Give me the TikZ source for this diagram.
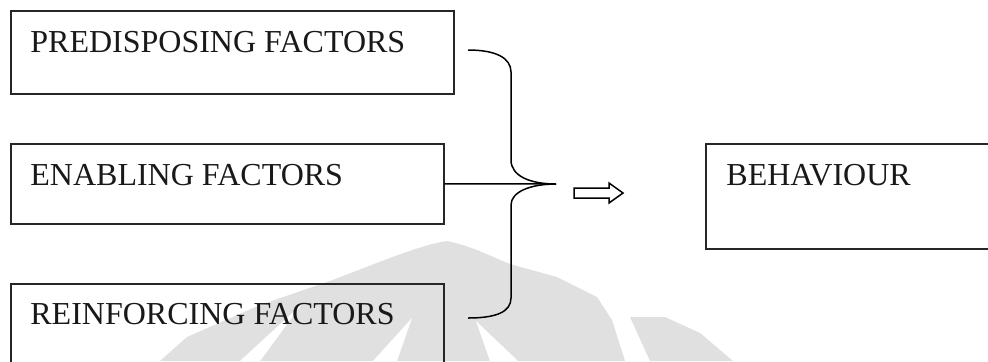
\documentclass[tikz,border=0pt]{standalone}
\usepackage{fontspec}
\setmainfont{Liberation Serif}
\begin{document}
\begin{tikzpicture}[x=0.5pt,y=-0.5pt,
  box/.style={draw=black!85, line width=0.8pt, rectangle, inner sep=0pt, anchor=north west},
  lbl/.style={anchor=base west, inner sep=0pt, font=\fontsize{16pt}{19pt}\selectfont, text=black!90},
  conn/.style={draw=black, line width=0.75pt},
  wm/.style={fill=black!12, draw=none}]
\clip (0,0) rectangle (988,361);
\fill[white] (0,0) rectangle (988,361);
% watermark
\fill[wm] (160,361) -- (187,337) -- (260,305) -- (330,281) .. controls (380,262) and (420,245) .. (447,241) .. controls (480,248) and (500,262) .. (517,266) -- (557,277) -- (597,297) -- (612,320) -- (625,361) -- cycle;
\fill[white] (240,361) -- (302,304) -- (260,361) -- cycle;
\fill[white] (373,361) -- (412,318) -- (397,361) -- cycle;
\fill[white] (490,361) -- (476,321) -- (518,361) -- cycle;
\fill[wm] (630,317) -- (665,317) -- (700,333) -- (733,361) -- (650,361) -- cycle;
% boxes
\node[box, minimum width=221.5pt, minimum height=41.5pt] (pf) at (10,10) {};
\node[box, minimum width=216.5pt, minimum height=40pt] (ef) at (10,143) {};
\node[box, minimum width=216.5pt, minimum height=60pt] (rf) at (10,283) {};
\node[box, minimum width=200pt, minimum height=52.5pt] (bh) at (705,143) {};
\node[lbl] (pft) at (30,52) {PREDISPOSING FACTORS};
\node[lbl] (eft) at (30,185) {ENABLING FACTORS};
\node[lbl] (rft) at (30,324) {REINFORCING FACTORS};
\node[lbl] (bht) at (726,185) {BEHAVIOUR};
% brace
\coordinate (tip) at (556,184);
\coordinate (btop) at (468,50);
\coordinate (bbot) at (468,318);
\draw[conn] (btop) .. controls (496,50) and (511,58) .. (511,72) -- (511,160)
  .. controls (511,176) and (530,184) .. (tip)
  .. controls (530,184) and (511,192) .. (511,205) -- (511,298)
  .. controls (511,312) and (496,318) .. (bbot);
\draw[conn] (ef.east) -- (tip);
% hollow arrow
\draw[line width=0.75pt, fill=white] (574,188) -- (609,188) -- (609,183) -- (623,193) -- (609,203) -- (609,198) -- (574,198) -- cycle;
\end{tikzpicture}
\end{document}
